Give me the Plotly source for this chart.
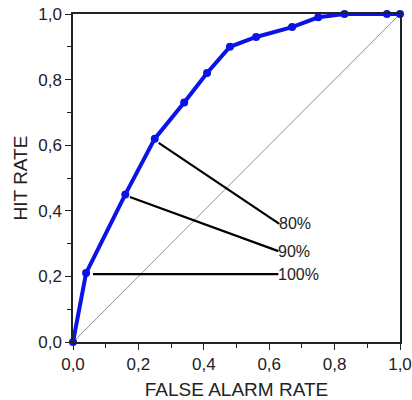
import plotly.graph_objects as go

# ROC curve data
far = [0.0, 0.04, 0.16, 0.25, 0.34, 0.41, 0.48, 0.56, 0.67, 0.75, 0.83, 0.96, 1.0]
hit = [0.0, 0.21, 0.45, 0.62, 0.73, 0.82, 0.90, 0.93, 0.96, 0.99, 1.0, 1.0, 1.0]

# chance diagonal
diag_x = [0.0, 1.0]
diag_y = [0.0, 1.0]

# labelled pointer lines
labels = ["80%", "90%", "100%"]
ptr_x0 = [0.262, 0.174, 0.061]
ptr_y0 = [0.607, 0.442, 0.207]
ptr_x1 = [0.631, 0.628, 0.628]
ptr_y1 = [0.360, 0.277, 0.207]

FONT = "Liberation Sans, Arial"

fig = go.Figure()
fig.add_trace(go.Scatter(x=diag_x, y=diag_y, mode="lines",
                         line=dict(color="#777777", width=0.8), hoverinfo="skip"))
for i in range(len(labels)):
    fig.add_trace(go.Scatter(x=[ptr_x0[i], ptr_x1[i]], y=[ptr_y0[i], ptr_y1[i]],
                             mode="lines", line=dict(color="black", width=2.2)))
    fig.add_annotation(x=ptr_x1[i], y=ptr_y1[i], text=labels[i], showarrow=False,
                       xanchor="left", yanchor="middle", xshift=-2,
                       font=dict(family=FONT, size=16, color="#222"))
fig.add_trace(go.Scatter(x=far, y=hit, mode="lines+markers",
                         line=dict(color="#0a14e6", width=4),
                         marker=dict(color="#0a14e6", size=8), cliponaxis=False))

ax = dict(range=[0, 1], tickvals=[0, 0.2, 0.4, 0.6, 0.8, 1.0], tickformat=".1f",
          ticks="outside", ticklen=6, tickwidth=1.3, tickcolor="#222",
          minor=dict(ticks="outside", ticklen=4, dtick=0.1, tickcolor="#222", tickwidth=1.2),
          showline=True, linecolor="#222", linewidth=1.5, mirror=True,
          showgrid=False, zeroline=False, automargin=False,
          ticklabeloverflow="allow",
          tickfont=dict(family=FONT, size=17, color="#222"))

fig.update_layout(
    width=412, height=400, separators=", ",
    margin=dict(l=73, r=12, t=14, b=58),
    paper_bgcolor="white", plot_bgcolor="white", showlegend=False,
    xaxis=dict(ax, title=dict(text="FALSE ALARM RATE", standoff=18,
               font=dict(family=FONT, size=19, color="#222"))),
    yaxis=dict(ax, title=dict(text="HIT RATE", standoff=6,
               font=dict(family=FONT, size=19, color="#222"))),
)
fig.write_html("out.html", config={"displayModeBar": False},
               post_script="document.body.style.margin='0';document.body.style.padding='0';")
